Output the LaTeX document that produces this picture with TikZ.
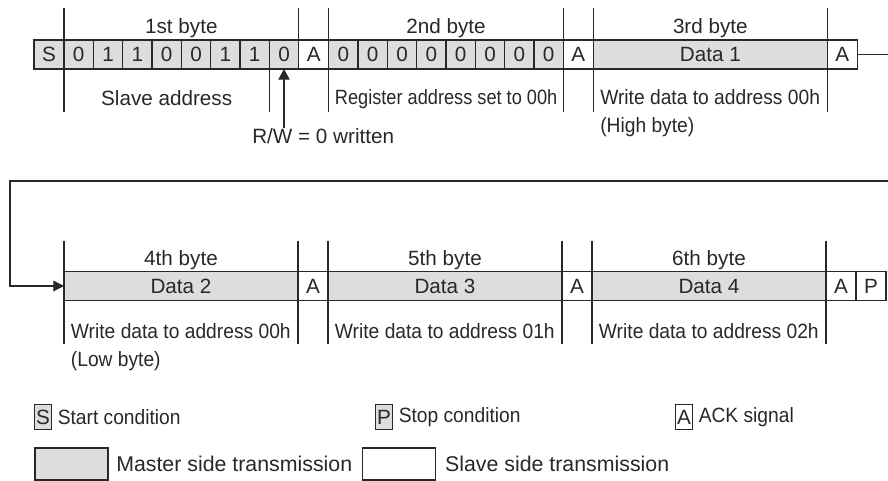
\documentclass[tikz,border=0pt]{standalone}
\usepackage{fontspec}
\setmainfont{Liberation Sans}
\newfontfamily\regfont[FakeStretch=0.88]{Liberation Sans}
\newfontfamily\notefont[FakeStretch=0.93]{Liberation Sans}
\usetikzlibrary{positioning,arrows.meta}
\definecolor{linecol}{RGB}{40,40,40}
\definecolor{mastergray}{RGB}{220,221,222}

\begin{document}
\begin{tikzpicture}[
x=0.75pt, y=-0.75pt,
font=\fontsize{15.5}{21}\selectfont,
cell/.style={rectangle, draw=linecol, line width=0.9pt, inner sep=0pt, outer sep=0pt, minimum height=21.75pt, text=linecol},
mst/.style={cell, fill=mastergray},
slv/.style={cell, fill=white},
bit/.style={minimum width=22pt},
ack/.style={minimum width=22.5pt},
data/.style={minimum width=175.5pt},
tick/.style={draw=linecol, line width=0.9pt},
lbl/.style={inner sep=0pt, text=linecol},
note/.style={lbl, font=\notefont\fontsize{15.5}{21}\selectfont, align=left, anchor=north west},
keybox/.style={cell, minimum width=12.75pt, minimum height=18.75pt},
sidetxt/.style={lbl, font=\fontsize{16}{21}\selectfont, anchor=west},
flow/.style={draw=linecol, line width=0.9pt, -{Triangle[length=8pt,width=8pt]}},
]
\useasboundingbox (0,0) rectangle (888,481);
\clip (0,0) rectangle (888,481);

% First row: slave address, register address, data 1
\node[mst, ack, anchor=west] (s) at (34,54.5) {S};
\node[mst, bit, right=0pt of s] (b1) {0};
\node[mst, bit, right=0pt of b1] (b2) {1};
\node[mst, bit, right=0pt of b2] (b3) {1};
\node[mst, bit, right=0pt of b3] (b4) {0};
\node[mst, bit, right=0pt of b4] (b5) {0};
\node[mst, bit, right=0pt of b5] (b6) {1};
\node[mst, bit, right=0pt of b6] (b7) {1};
\node[mst, bit, right=0pt of b7] (b8) {0};
\node[slv, ack, right=0pt of b8] (a1) {A};
\node[mst, bit, right=0pt of a1] (b9) {0};
\node[mst, bit, right=0pt of b9] (b10) {0};
\node[mst, bit, right=0pt of b10] (b11) {0};
\node[mst, bit, right=0pt of b11] (b12) {0};
\node[mst, bit, right=0pt of b12] (b13) {0};
\node[mst, bit, right=0pt of b13] (b14) {0};
\node[mst, bit, right=0pt of b14] (b15) {0};
\node[mst, bit, right=0pt of b15] (b16) {0};
\node[slv, ack, right=0pt of b16] (a2) {A};
\node[mst, data, right=0pt of a2] (d1) {Data 1};
\node[slv, ack, right=0pt of d1] (a3) {A};

% byte borders, first row
\draw[tick] ([yshift=24pt]b1.north west) -- ([yshift=-32.25pt]b1.south west);
\draw[tick] ([yshift=24pt]b8.north east) -- (b8.north east);
\draw[tick] (b8.south west) -- ([yshift=-32.25pt]b8.south west);
\draw[tick] ([yshift=24pt]b9.north west) -- ([yshift=-32.25pt]b9.south west);
\draw[tick] ([yshift=24pt]a2.north west) -- ([yshift=-32.25pt]a2.south west);
\draw[tick] ([yshift=24pt]d1.north west) -- ([yshift=-32.25pt]d1.south west);
\draw[tick] ([yshift=24pt]d1.north east) -- ([yshift=-32.25pt]d1.south east);

\node[lbl, anchor=base] (byte1) at ([yshift=4.5pt]b4.north east) {1st byte};
\node[lbl, anchor=base] (byte2) at ([yshift=4.5pt]b12.north east) {2nd byte};
\node[lbl, anchor=base] (byte3) at ([yshift=4.5pt]d1.north) {3rd byte};

\node[lbl, anchor=north] (slave) at ([yshift=-16pt]b4.south) {Slave address};
\node[note, font=\regfont\fontsize{15.5}{21}\selectfont] (reg) at ([xshift=4.5pt, yshift=-15.5pt]b9.south west) {Register address set to 00h};
\node[note] (wr1) at ([xshift=5pt, yshift=-15.5pt]d1.south west) {Write data to address 00h\\(High byte)};

% R/W bit
\node[lbl, anchor=north west] (rw) at ([xshift=-24pt, yshift=-44.25pt]b8.south) {R/W = 0 written};
\draw[flow, -{Triangle[length=8pt,width=8.5pt]}] (b8.south |- rw.north) -- (b8.south);

% Second row: data 2 to data 4
\node[mst, data, anchor=west] (d2) at (64,286) {Data 2};
\node[slv, ack, right=0pt of d2] (a4) {A};
\node[mst, data, right=0pt of a4] (d3) {Data 3};
\node[slv, ack, right=0pt of d3] (a5) {A};
\node[mst, data, right=0pt of a5] (d4) {Data 4};
\node[slv, ack, right=0pt of d4] (a6) {A};
\node[slv, ack, right=0pt of a6] (p) {P};

% byte borders, second row
\draw[tick] ([yshift=23.25pt]d2.north west) -- ([yshift=-32.25pt]d2.south west);
\draw[tick] ([yshift=23.25pt]d2.north east) -- ([yshift=-32.25pt]d2.south east);
\draw[tick] ([yshift=23.25pt]d3.north west) -- ([yshift=-32.25pt]d3.south west);
\draw[tick] ([yshift=23.25pt]d3.north east) -- ([yshift=-32.25pt]d3.south east);
\draw[tick] ([yshift=23.25pt]d4.north west) -- ([yshift=-32.25pt]d4.south west);
\draw[tick] ([yshift=23.25pt]d4.north east) -- ([yshift=-32.25pt]d4.south east);

\node[lbl, anchor=base] (byte4) at ([yshift=4.5pt]d2.north) {4th byte};
\node[lbl, anchor=base] (byte5) at ([yshift=4.5pt]d3.north) {5th byte};
\node[lbl, anchor=base] (byte6) at ([yshift=4.5pt]d4.north) {6th byte};

\node[note] (wr2) at ([xshift=5pt, yshift=-17pt]d2.south west) {Write data to address 00h\\(Low byte)};
\node[note] (wr3) at ([xshift=5pt, yshift=-17pt]d3.south west) {Write data to address 01h};
\node[note] (wr4) at ([xshift=5pt, yshift=-17pt]d4.south west) {Write data to address 02h};

% continuation from first row to second row
\coordinate (rt) at (900,0);
\coordinate (lf) at (10,181);
\draw[flow] (a3.east) -- (a3.east -| rt) |- (lf) |- (d2.west);

% Legend
\node[mst, keybox] (keys) at (43,417) {S};
\node[note, right=4.5pt of keys] (keystxt) {Start condition};
\node[mst, keybox] (keyp) at (384,417) {P};
\node[note, right=4.5pt of keyp] (keyptxt) {Stop condition};
\node[slv, keybox] (keya) at (684,417) {A};
\node[note, right=4.5pt of keya] (keyatxt) {ACK signal};
\node[mst, keybox, minimum width=54.75pt, minimum height=24pt] (keym) at (71.5,464) {};
\node[sidetxt, right=6pt of keym] (keymtxt) {Master side transmission};
\node[slv, keybox, minimum width=54.75pt, minimum height=24pt] (keysl) at (399,464) {};
\node[sidetxt, right=7pt of keysl] (keysltxt) {Slave side transmission};

\end{tikzpicture}
\end{document}
